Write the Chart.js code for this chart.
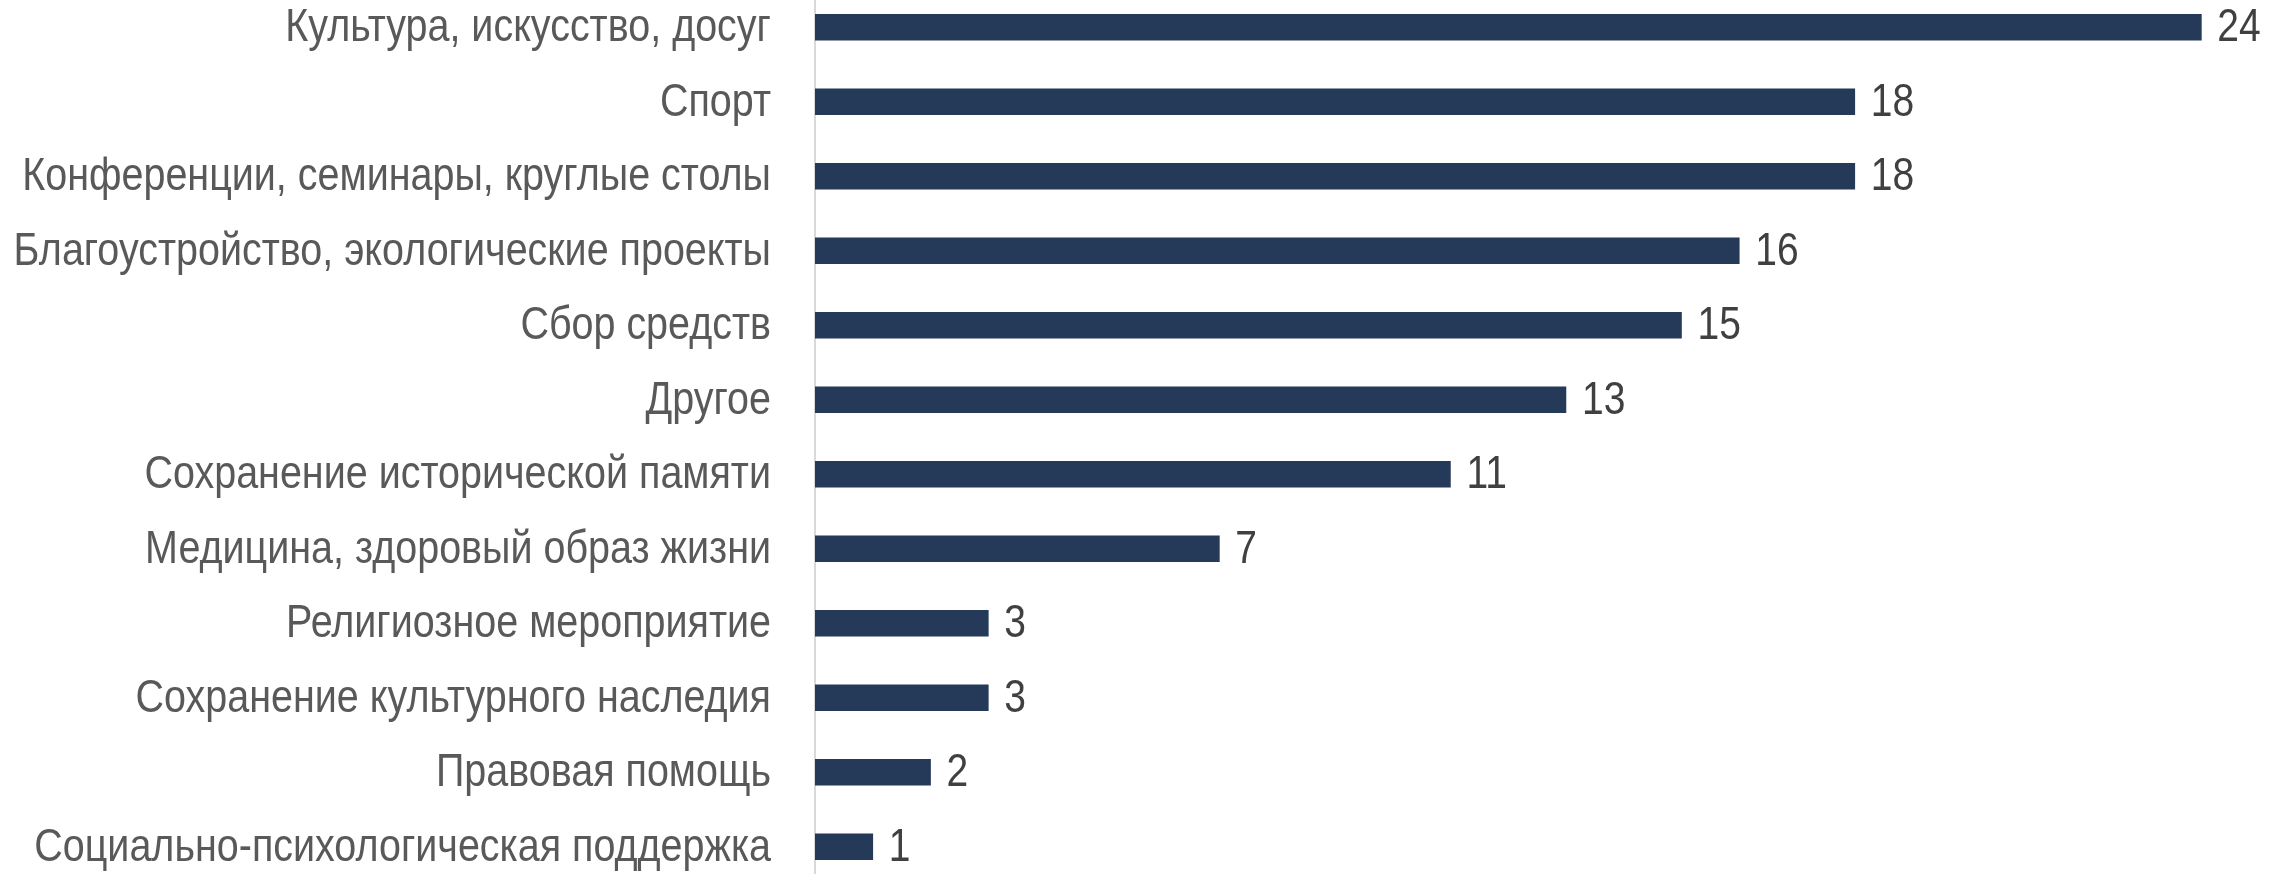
<!DOCTYPE html>
<html>
<head>
<meta charset="utf-8">
<script src="https://cdn.jsdelivr.net/npm/chart.js@4"></script>
<style>
  html, body { margin: 0; padding: 0; background: #ffffff; overflow: hidden; width: 2288px; height: 874px; }
  #wrap { position: absolute; left: 0; top: -10px; width: 2288px; height: 894px; }
</style>
</head>
<body>
<div id="wrap"><canvas id="c" width="2288" height="894"></canvas></div>
<script>
const categories = [
  "Культура, искусство, досуг",
  "Спорт",
  "Конференции, семинары, круглые столы",
  "Благоустройство, экологические проекты",
  "Сбор средств",
  "Другое",
  "Сохранение исторической памяти",
  "Медицина, здоровый образ жизни",
  "Религиозное мероприятие",
  "Сохранение культурного наследия",
  "Правовая помощь",
  "Социально-психологическая поддержка"
];
const values = [24, 18, 18, 16, 15, 13, 11, 7, 3, 3, 2, 1];

const FONT = "'Liberation Sans', Arial, sans-serif";
const NARROW_LABEL = 0.84;
const NARROW_VALUE = 0.83;

// Draws condensed (Arial Narrow–like) category labels and value labels
const narrowText = {
  id: 'narrowText',
  afterDatasetsDraw(chart) {
    const ctx = chart.ctx;
    const yScale = chart.scales.y;
    const area = chart.chartArea;
    ctx.save();
    ctx.font = "47px " + FONT;
    ctx.textBaseline = 'middle';
    // category labels
    ctx.fillStyle = '#595959';
    ctx.textAlign = 'right';
    chart.data.labels.forEach((lab, i) => {
      const y = yScale.getPixelForTick(i);
      ctx.save();
      ctx.translate(area.left - 44, y + 1);
      ctx.scale(NARROW_LABEL, 1);
      ctx.fillText(lab, 0, 0);
      ctx.restore();
    });
    // value labels
    ctx.fillStyle = '#404040';
    ctx.textAlign = 'left';
    const meta = chart.getDatasetMeta(0);
    meta.data.forEach((bar, i) => {
      ctx.save();
      ctx.translate(bar.x + 16, bar.y + 1);
      ctx.scale(NARROW_VALUE, 1);
      ctx.fillText(String(values[i]), 0, 0);
      ctx.restore();
    });
    ctx.restore();
  }
};

new Chart(document.getElementById('c'), {
  type: 'bar',
  data: {
    labels: categories,
    datasets: [{
      data: values,
      backgroundColor: '#253a59',
      borderWidth: 0,
      barThickness: 26
    }]
  },
  options: {
    indexAxis: 'y',
    responsive: false,
    animation: false,
    devicePixelRatio: 1,
    layout: { padding: 0 },
    plugins: { legend: { display: false }, tooltip: { enabled: false } },
    scales: {
      x: {
        display: false,
        min: 0,
        max: 25.5
      },
      y: {
        grid: { display: false, drawTicks: false },
        border: { display: true, color: '#d9d9d9', width: 2 },
        ticks: { display: false },
        afterFit(scale) {
          scale.width = 815;
          scale.paddingTop = 0;
          scale.paddingBottom = 0;
        }
      }
    }
  },
  plugins: [narrowText]
});
</script>
</body>
</html>
